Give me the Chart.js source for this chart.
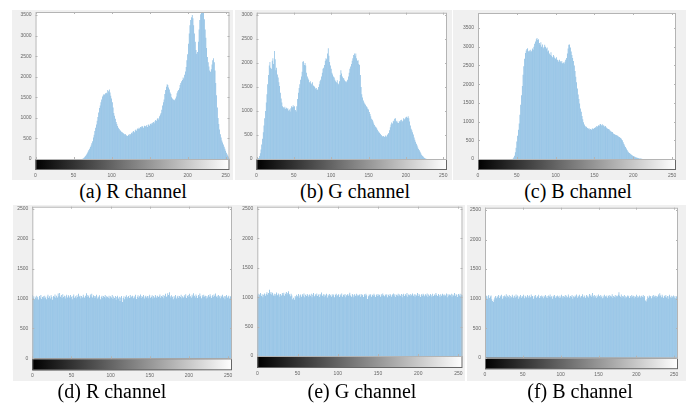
<!DOCTYPE html>
<html>
<head>
<meta charset="utf-8">
<script src="https://cdn.jsdelivr.net/npm/chart.js@4.4.1/dist/chart.umd.min.js"></script>
<style>
  html, body { margin: 0; padding: 0; background: #fff; }
  body { width: 686px; height: 404px; position: relative; overflow: hidden; }
  .panel { position: absolute; background: #f0f0f0; }
  .panel canvas { display: block; }
  .cap {
    position: absolute; transform: translateX(-50%);
    font-family: 'Liberation Serif', 'Times New Roman', serif;
    font-size: 20px; line-height: 20px; color: #000; white-space: nowrap;
  }
</style>
</head>
<body>
<script>
// grey levels 0..255
const bins = Array.from({ length: 256 }, (_, i) => i);

const xTicks = [0, 50, 100, 150, 200, 250];
const yTicksR = [0, 500, 1000, 1500, 2000, 2500, 3000, 3500];
const yTicksG = [0, 500, 1000, 1500, 2000, 2500, 3000];
const yTicksB = [0, 500, 1000, 1500, 2000, 2500, 3000, 3500];
const yTicksEnc = [0, 500, 1000, 1500, 2000, 2500];

const captions = ['(a) R channel', '(b) G channel', '(c) B channel',
                  '(d) R channel', '(e) G channel', '(f) B channel'];

// (a) original image, R channel
const histR = [
  0,0,0,0,0,0,0,0,0,0,0,0,0,0,0,0,
  0,0,0,0,0,0,0,0,0,0,0,0,0,0,0,0,
  0,0,0,0,0,0,0,0,0,0,0,0,0,0,0,0,
  0,0,0,0,0,0,0,0,0,0,0,0,0,2,8,20,
  35,55,80,110,140,175,210,250,290,330,380,430,520,590,680,760,
  840,930,1020,1130,1240,1300,1380,1450,1520,1550,1580,1560,1600,1610,1590,1680,
  1650,1690,1620,1540,1470,1380,1250,1120,1050,980,900,850,800,760,730,700,
  690,660,650,630,620,600,610,580,570,560,590,570,610,600,640,620,
  660,680,650,700,720,690,740,730,760,740,780,770,800,790,760,810,
  800,790,820,780,830,840,810,850,870,840,880,900,870,920,950,930,
  980,1000,960,1040,1080,1120,1200,1300,1380,1450,1580,1680,1760,1820,1800,1740,
  1690,1620,1580,1500,1470,1440,1450,1430,1470,1520,1600,1650,1680,1720,1800,1850,
  1890,1920,1980,1960,2050,2130,2240,2400,2550,2800,3050,3250,3380,3450,3500,3420,
  3250,3050,2850,2650,2560,2600,2850,3150,3380,3520,3580,3560,3580,3550,3400,3150,
  2950,2700,2480,2350,2250,2150,2120,2180,2300,2400,2450,2350,2150,1850,1550,1250,
  1000,850,720,600,520,450,400,350,300,250,200,150,110,70,40,20
];

// (b) original image, G channel
const histG = [
  0,0,5,20,60,120,200,300,420,560,700,850,1000,1180,1350,1560,
  1750,1950,2020,1900,1880,2050,2100,1980,2250,2080,1850,1900,1760,1700,1600,1520,
  1380,1260,1180,1100,1080,1060,1090,1050,1070,1040,1060,1010,1030,990,1060,1100,
  1080,1120,1090,1100,1020,990,1100,1250,1380,1480,1560,1650,1720,1820,2030,2040,
  1960,2000,1950,1800,1720,1680,1650,1600,1620,1580,1560,1600,1530,1520,1500,1470,
  1480,1440,1450,1500,1560,1620,1650,1720,1800,1880,1900,1960,2050,2100,2080,2200,
  2310,2150,2020,1950,1880,1800,1760,1720,1700,1650,1620,1600,1640,1580,1560,1620,
  1750,1850,1780,1720,1690,1680,1640,1620,1600,1620,1650,1720,1800,1880,1930,1980,
  2050,2100,2170,2200,2150,2200,2100,2050,2060,1980,1960,1750,1500,1350,1280,1220,
  1180,1150,1130,1100,1080,1050,1030,980,940,890,840,820,780,740,710,680,
  660,640,610,580,560,540,520,500,480,470,480,460,470,490,470,500,
  520,540,600,660,720,760,740,800,780,840,850,780,800,760,750,790,
  770,810,820,780,800,850,830,850,870,880,860,890,850,780,700,630,
  600,560,510,450,400,360,320,280,240,210,180,150,120,90,70,50,
  35,20,10,5,0,0,0,0,0,0,0,0,0,0,0,0,
  0,0,0,0,0,0,0,0,0,0,0,0,0,0,0,0
];

// (c) original image, B channel
const histB = [
  0,0,0,0,0,0,0,0,0,0,0,0,0,0,0,0,
  0,0,0,0,0,0,0,0,0,0,0,0,0,0,0,0,
  0,0,0,0,0,0,0,0,0,0,0,0,0,10,40,90,
  180,300,470,620,780,950,1180,1450,1700,1950,2250,2480,2680,2830,2900,2940,
  2960,2880,2900,2870,2920,2880,2950,2920,3000,3080,3140,3200,3230,3180,3200,3100,
  3050,3120,3000,3060,2960,2990,3050,3000,2950,2980,2870,2900,2820,2780,2850,2760,
  2720,2780,2740,2700,2680,2720,2650,2640,2600,2650,2610,2580,2620,2560,2580,2550,
  2600,2650,2700,2820,2950,3050,3060,2980,2870,2780,2700,2620,2500,2350,2200,2050,
  1880,1720,1600,1480,1350,1260,1150,1060,980,920,880,850,860,830,810,820,
  790,800,780,810,820,800,830,850,840,880,870,900,880,920,935,900,
  930,890,900,870,880,850,830,810,800,790,760,740,730,720,690,670,
  660,650,640,630,620,600,590,570,560,530,500,450,400,360,320,280,
  240,210,180,160,140,125,110,95,80,70,60,50,40,32,25,20,
  15,11,8,5,3,0,0,0,0,0,0,0,0,0,0,0,
  0,0,0,0,0,0,0,0,0,0,0,0,0,0,0,0,
  0,0,0,0,0,0,0,0,0,0,0,0,0,0,0,0
];

// (d) encrypted image, R channel
const encR = [
  1060,1010,1040,990,1020,1050,1000,1030,985,1045,1015,1060,995,1025,1040,1005,
  1050,1020,990,1035,1065,1010,1040,1000,1055,1025,980,1045,1030,1070,1015,1050,
  1020,1085,1040,1095,1030,1060,1010,1075,1025,1050,1000,1040,1065,1020,1055,1035,
  1010,1060,1030,990,1045,1070,1015,1040,1005,1055,1025,1080,1035,1050,1000,1045,
  1020,1065,1030,1010,1050,1090,1025,1060,1040,1015,1070,1035,1080,1020,1055,1045,
  1010,1040,1065,1000,1035,1020,1055,990,1030,1050,1010,1045,1025,1060,1005,1040,
  1030,1015,1050,1000,1040,1020,1060,995,1035,1010,1045,980,1025,1050,1000,1030,
  960,1020,1045,945,1010,1040,990,1030,1055,1000,1025,1045,1010,1060,1020,1035,
  1050,1005,1040,1020,1065,995,1030,1055,1015,1040,1070,1010,1045,1025,1060,1000,
  1035,1050,1020,1045,1005,1040,1065,1015,1030,1055,1000,1045,1020,1060,1035,1010,
  1050,1025,1040,1070,1015,1045,1030,1060,1005,1050,1080,1025,1040,1090,1060,1105,
  1040,1015,1055,1030,990,1045,1020,1060,1000,1035,1050,1010,1045,1025,1065,1005,
  1040,1020,1055,1030,1075,1010,1045,1060,1025,1080,1040,1015,1065,1035,1090,1050,
  1020,1070,1045,1010,1060,1030,1085,1040,1005,1055,1025,1065,1035,1050,1000,1045,
  1020,1060,1030,1075,1040,1010,1055,1025,1070,1045,1085,1030,1050,1015,1060,1040,
  1005,1050,1030,1065,1020,1045,990,1040,1060,1015,1035,1050,1000,1040,1025,1030
];

// (e) encrypted image, G channel
const encG = [
  1030,1060,1010,1045,1070,1020,1050,1000,1040,1065,1025,1055,1085,1040,1070,1125,
  1060,1090,1045,1075,1030,1060,1020,1050,1080,1035,1065,1045,1010,1055,1030,1070,
  1040,1075,1025,1060,1090,1045,1070,1100,1050,1015,1060,1030,965,990,955,1020,
  1000,1040,1015,1055,990,1030,1045,1010,1050,1025,1065,1000,1040,1020,1055,1035,
  1010,1045,1025,1060,1000,1040,1070,1015,1050,1030,1065,1020,1045,1005,1055,1035,
  1080,1025,1050,1010,1045,1030,1060,995,1040,1020,1055,1035,1010,1050,1025,1045,
  1000,1040,1060,1015,1035,1050,1005,1045,1025,1065,1010,1040,1030,1055,1000,1035,
  1050,1020,1045,1075,1030,1010,1055,1035,1000,1050,1025,1060,1015,1040,1030,1045,
  1010,1055,1030,1040,1005,1050,1025,1060,1035,970,1015,1045,1030,1050,1010,1040,
  1025,1060,1035,1005,1045,1020,1055,1030,1040,1010,1050,1025,1065,1035,1015,1045,
  1030,1050,1000,1040,1020,1055,1035,1010,1045,1065,1025,1050,1005,1040,1030,1060,
  1015,1045,1025,1055,1000,1040,1060,1020,1050,1030,1070,1010,1045,1035,1055,1020,
  1040,1065,1025,1050,1010,1045,1030,1070,1020,1055,1035,1005,1050,1025,1060,1040,
  1015,1050,1030,1065,1005,1045,1025,1055,1035,1010,1060,1020,1045,1030,1070,1040,
  1020,1055,1035,1005,1050,1025,1060,1040,1015,1045,1030,1065,1000,1050,1025,1045,
  1035,1060,1010,1045,1030,1070,1020,1050,1040,1005,1055,1030,1060,1015,1045,1035
];

// (f) encrypted image, B channel
const encB = [
  1070,1020,1050,1000,1040,1060,1010,1035,1055,990,960,945,985,1020,1045,1005,
  1040,1025,1060,1010,1050,1030,1065,1000,1045,1020,1055,1035,1075,1015,1050,1030,
  1060,1005,1045,1025,1065,1035,1010,1050,1020,1070,1030,1055,1000,1040,1025,1060,
  1015,1045,1030,1065,1005,1050,1035,1020,1060,1040,1010,1055,1025,1070,1035,1045,
  1000,1050,1025,1060,1015,1040,1030,1065,1010,1045,1020,1055,1035,1005,1050,1030,
  1060,1020,1045,1010,1055,1035,1070,1025,1040,1000,1050,1030,1060,1015,1045,1025,
  1055,1035,1010,1050,1020,1065,1040,1005,1045,1030,1060,1015,1050,1025,1070,1035,
  1010,1045,1030,1060,1000,1040,1025,1055,1035,1070,1015,1050,1030,1065,1020,1045,
  1040,1075,1025,1055,1035,1010,1060,1030,1050,1020,1080,1045,1065,1030,1095,1050,
  1020,1060,1040,1010,1055,1030,1070,1045,1025,1060,1035,1005,1050,1020,1065,1040,
  1030,1055,1015,1045,1060,1025,1050,1035,1075,1010,1045,1030,1060,1020,1050,1040,
  1065,1110,1050,1030,1070,1015,1045,1035,1060,1005,1040,1025,1055,1030,1050,1010,
  1045,1020,1060,1035,1050,1005,1040,1030,1065,1015,1045,1025,1055,1035,1010,1050,
  1030,1060,1020,1045,970,950,990,1040,1015,1055,1030,1045,1005,1050,1025,1060,
  1035,1050,1015,1045,1030,1070,1040,1090,1055,1025,1065,1035,1010,1050,1030,1060,
  1020,1045,1000,1040,1065,1025,1050,1010,1035,1055,1020,1045,1005,1040,1030,1025
];

// panel boxes on the page (grey figure area) and where the axes sit inside
const panels = [
  { data: histR, yTicks: yTicksR, ymax: 3575, x: 12,  y: 10,  w: 221, h: 170, yw: 23.5, top: 2,   right: 3.5, xh: 21,   barH: 11,   capX: 133, capY: 181 },
  { data: histG, yTicks: yTicksG, ymax: 3050, x: 235, y: 10,  w: 217, h: 170, yw: 21.5, top: 2.7, right: 5,   xh: 21,   barH: 11,   capX: 355, capY: 181 },
  { data: histB, yTicks: yTicksB, ymax: 3900, x: 453, y: 10,  w: 233, h: 170, yw: 25,   top: 3,   right: 10,  xh: 21,   barH: 11,   capX: 578, capY: 181 },
  { data: encR,  yTicks: yTicksEnc, ymax: 2540, x: 13,  y: 205, w: 224, h: 176, yw: 19.3, top: 1.7, right: 5,   xh: 22.7, barH: 12,   capX: 112, capY: 380.5 },
  { data: encG,  yTicks: yTicksEnc, ymax: 2540, x: 235, y: 205, w: 230, h: 176, yw: 22.3, top: 1.7, right: 2.5, xh: 25,   barH: 12,   capX: 362, capY: 380.5 },
  { data: encB,  yTicks: yTicksEnc, ymax: 2540, x: 467, y: 205, w: 219, h: 176, yw: 18,   top: 2.7, right: 8,   xh: 23.3, barH: 11.5, capX: 580, capY: 380.5 }
];

const tickFont = { family: "'Liberation Sans', Arial, sans-serif", size: 5 };

// white axes, box with inner ticks, and the grey colour bar under the histogram
const framePlugin = {
  id: 'frame',
  beforeDraw(chart) {
    const { ctx, chartArea: a } = chart;
    ctx.save();
    ctx.fillStyle = '#fff';
    ctx.fillRect(a.left, a.top, a.right - a.left, a.bottom - a.top);
    ctx.restore();
  },
  afterDraw(chart, args, opts) {
    const { ctx, chartArea: a, scales } = chart;
    const w = a.right - a.left;
    ctx.save();
    const g = ctx.createLinearGradient(a.left, 0, a.right, 0);
    g.addColorStop(0, '#000');
    g.addColorStop(1, '#fff');
    ctx.fillStyle = g;
    ctx.fillRect(a.left, a.bottom, w, opts.barH);
    ctx.lineWidth = 1;
    ctx.strokeStyle = '#666';
    ctx.strokeRect(a.left + 0.5, a.bottom + 0.5, w - 1, opts.barH - 1);

    ctx.strokeStyle = '#b4b4b4';
    ctx.strokeRect(a.left + 0.5, a.top + 0.5, w - 1, a.bottom - a.top);
    ctx.beginPath();
    scales.x.ticks.forEach(t => {
      const px = Math.round(scales.x.getPixelForValue(t.value)) + 0.5;
      ctx.moveTo(px, a.top); ctx.lineTo(px, a.top + 2);
      ctx.moveTo(px, a.bottom); ctx.lineTo(px, a.bottom - 2);
    });
    scales.y.ticks.forEach(t => {
      const py = Math.round(scales.y.getPixelForValue(t.value)) + 0.5;
      ctx.moveTo(a.left, py); ctx.lineTo(a.left + 2, py);
      ctx.moveTo(a.right, py); ctx.lineTo(a.right - 2, py);
    });
    ctx.stroke();
    ctx.restore();
  }
};

panels.forEach((p, i) => {
  const wrap = document.createElement('div');
  wrap.className = 'panel';
  wrap.style.left = p.x + 'px';
  wrap.style.top = p.y + 'px';
  wrap.style.width = p.w + 'px';
  wrap.style.height = p.h + 'px';
  const cv = document.createElement('canvas');
  cv.width = p.w;
  cv.height = p.h;
  wrap.appendChild(cv);
  document.body.appendChild(wrap);

  const cap = document.createElement('div');
  cap.className = 'cap';
  cap.textContent = captions[i];
  cap.style.left = p.capX + 'px';
  cap.style.top = p.capY + 'px';
  document.body.appendChild(cap);

  new Chart(cv, {
    type: 'bar',
    data: {
      labels: bins,
      datasets: [{
        data: p.data,
        backgroundColor: 'rgb(118, 178, 222)',
        borderWidth: 0,
        barPercentage: 0.85,
        categoryPercentage: 1
      }]
    },
    options: {
      responsive: false,
      animation: false,
      devicePixelRatio: 1,
      layout: { padding: { left: 0, top: p.top, right: p.right, bottom: 0 } },
      plugins: {
        legend: { display: false },
        tooltip: { enabled: false },
        frame: { barH: p.barH }
      },
      scales: {
        x: {
          type: 'linear',
          min: 0,
          max: 255,
          offset: false,
          grid: { display: false, drawTicks: false },
          border: { display: false },
          afterBuildTicks: s => { s.ticks = xTicks.map(v => ({ value: v })); },
          ticks: { autoSkip: false, maxRotation: 0, padding: p.barH + 2.5, color: '#666', font: tickFont,
                   callback: v => String(v) },
          afterFit: s => { s.height = p.xh; s.paddingLeft = 0; s.paddingRight = 0; }
        },
        y: {
          min: 0,
          max: p.ymax,
          grid: { display: false, drawTicks: false },
          border: { display: false },
          afterBuildTicks: s => { s.ticks = p.yTicks.map(v => ({ value: v })); },
          ticks: { padding: 4, color: '#666', font: tickFont, callback: v => String(v) },
          afterFit: s => { s.width = p.yw; s.paddingTop = 0; s.paddingBottom = 0; }
        }
      }
    },
    plugins: [framePlugin]
  });
});
</script>
</body>
</html>
